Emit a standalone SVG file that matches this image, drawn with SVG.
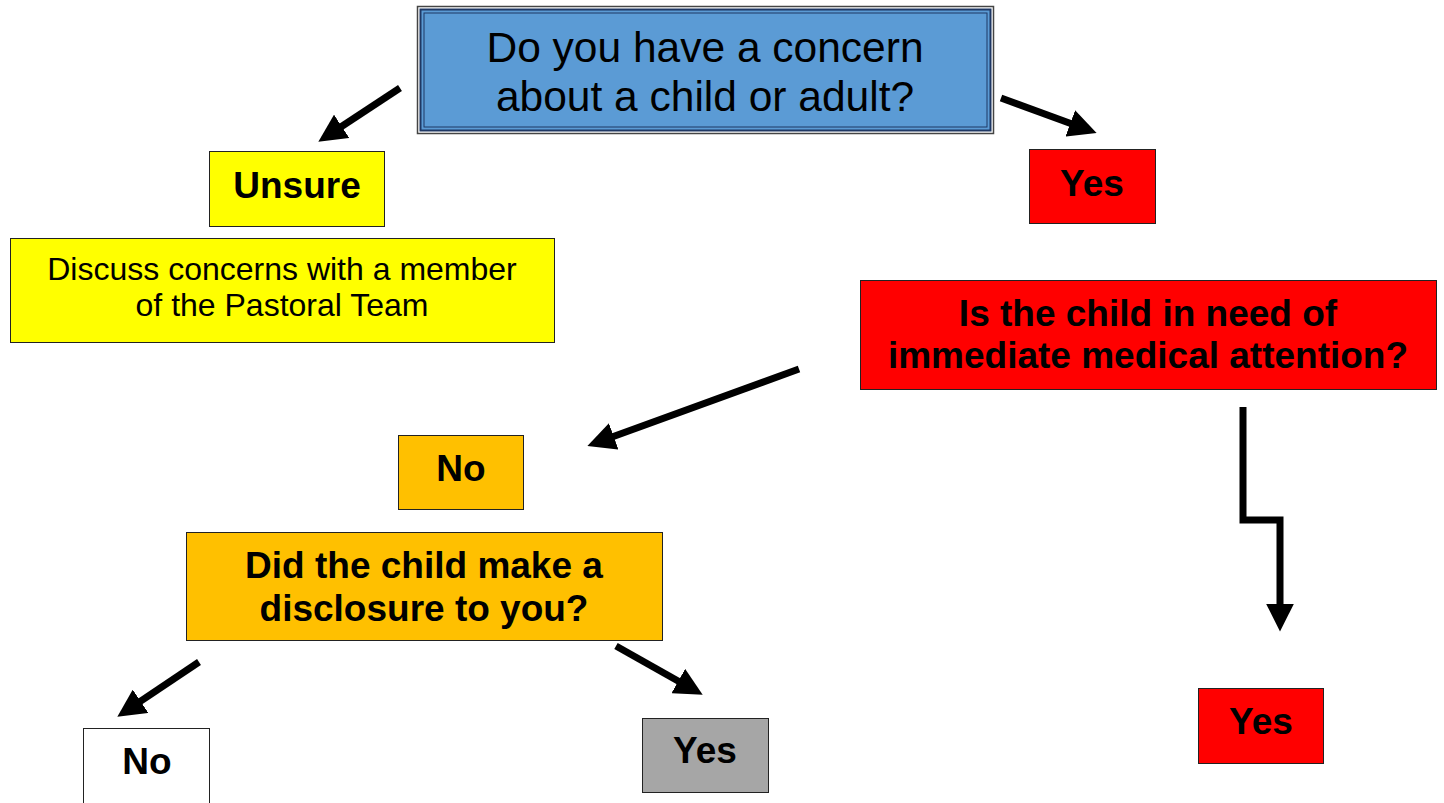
<svg xmlns="http://www.w3.org/2000/svg" width="1444" height="803" viewBox="0 0 1444 803">
<style>
.box{stroke:#222;stroke-width:1}
.t{font-family:"Liberation Sans",Arial,sans-serif;text-anchor:middle;fill:#000}
.b{font-weight:bold;font-size:37px}
.c{fill:none;stroke:#000;stroke-width:7;marker-end:url(#ah)}
</style>
<defs>
<marker id="ah" viewBox="0 0 10 10" refX="3" refY="5" markerWidth="4" markerHeight="4" orient="auto" markerUnits="strokeWidth">
<path d="M0,0 L10,5 L0,10 z" fill="#000"/>
</marker>
</defs>
<rect width="1444" height="803" fill="#fff"/>
<g id="connectors">
<path class="c" d="M400,88 L334.7,131"/>
<path class="c" d="M1001,98 L1078.2,126.2"/>
<path class="c" d="M799,369 L605.8,439.2"/>
<path class="c" d="M1243,407 L1243,520 L1280,520 L1280,612"/>
<path class="c" d="M199,662 L133.6,705.9"/>
<path class="c" d="M616,646 L685.6,685.2"/>
</g>
<g id="q1">
<rect x="417.5" y="6.5" width="576" height="127" fill="#fff" stroke="#444" stroke-width="1.5"/>
<rect x="420.5" y="9.5" width="570" height="121" fill="#5B9BD5" stroke="#1F3864" stroke-width="2"/>
<rect x="424" y="13" width="563" height="114" fill="none" stroke="#1F3864" stroke-width="1"/>
<text class="t" x="705" y="62" font-size="42.5">Do you have a concern</text>
<text class="t" x="705" y="111" font-size="42.5">about a child or adult?</text>
</g>
<g id="unsure">
<rect class="box" x="209.5" y="151.5" width="175" height="75" fill="#FFFF00"/>
<text class="t b" x="297" y="198">Unsure</text>
</g>
<g id="discuss">
<rect class="box" x="10.5" y="238.5" width="544" height="104" fill="#FFFF00"/>
<text class="t" x="282" y="280" font-size="32">Discuss concerns with a member</text>
<text class="t" x="282" y="316" font-size="32">of the Pastoral Team</text>
</g>
<g id="yes1">
<rect class="box" x="1029.5" y="149.5" width="126" height="74" fill="#FF0000"/>
<text class="t b" x="1092" y="196">Yes</text>
</g>
<g id="medical">
<rect class="box" x="860.5" y="280.5" width="576" height="109" fill="#FF0000"/>
<text class="t b" x="1148" y="326">Is the child in need of</text>
<text class="t b" x="1148" y="368">immediate medical attention?</text>
</g>
<g id="no1">
<rect class="box" x="398.5" y="435.5" width="125" height="74" fill="#FFC000"/>
<text class="t b" x="461" y="481">No</text>
</g>
<g id="disclosure">
<rect class="box" x="186.5" y="532.5" width="476" height="108" fill="#FFC000"/>
<text class="t b" x="424" y="578">Did the child make a</text>
<text class="t b" x="424" y="621">disclosure to you?</text>
</g>
<g id="no2">
<rect class="box" x="83.5" y="728.5" width="126" height="75" fill="#fff"/>
<text class="t b" x="147" y="774">No</text>
</g>
<g id="yes2">
<rect class="box" x="642.5" y="718.5" width="126" height="74" fill="#A6A6A6"/>
<text class="t b" x="705" y="763">Yes</text>
</g>
<g id="yes3">
<rect class="box" x="1198.5" y="688.5" width="125" height="75" fill="#FF0000"/>
<text class="t b" x="1261" y="734">Yes</text>
</g>
</svg>
